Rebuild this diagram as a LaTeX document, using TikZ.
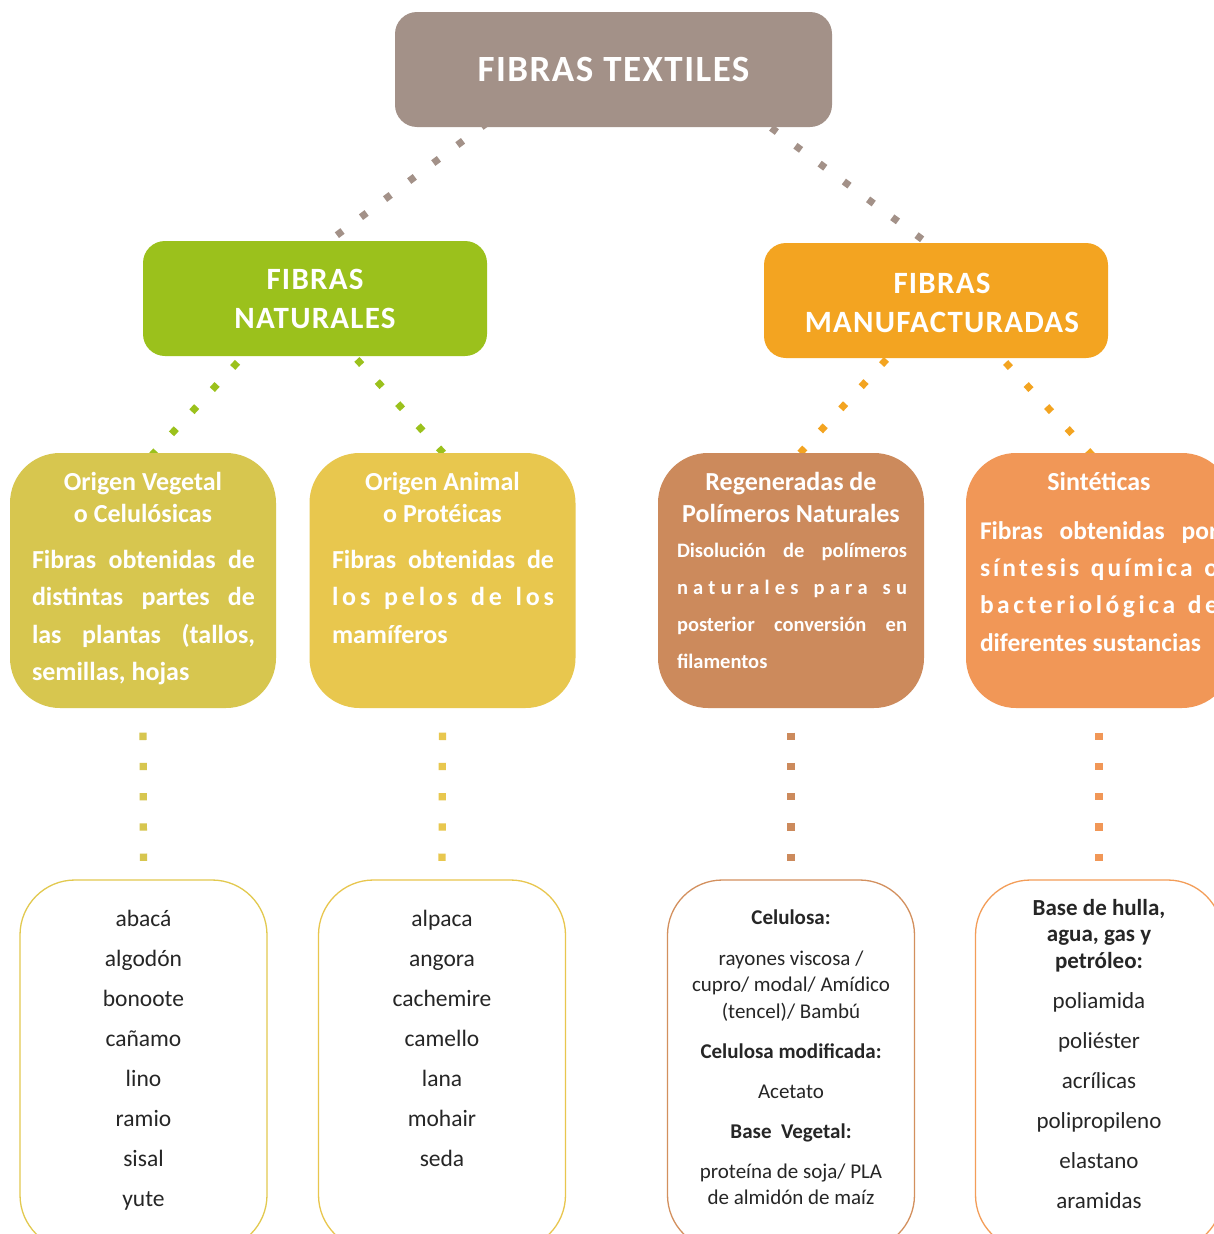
\documentclass[tikz,border=0pt]{standalone}
\usepackage{fontspec}
\setmainfont{Carlito}
\usetikzlibrary{backgrounds}

\definecolor{cTop}{HTML}{A39188}
\definecolor{cNat}{HTML}{9BC11C}
\definecolor{cMan}{HTML}{F3A421}
\definecolor{cVeg}{HTML}{D7C64F}
\definecolor{cAni}{HTML}{E8C74E}
\definecolor{cReg}{HTML}{CC8A5C}
\definecolor{cSin}{HTML}{F19757}
\definecolor{cVegL}{HTML}{E2C94F}
\definecolor{cAniL}{HTML}{E8C64E}
\definecolor{cRegL}{HTML}{D3905E}
\definecolor{cSinL}{HTML}{F39D58}
\definecolor{ink}{HTML}{262626}

% letter-spaced words: glue between every character
\makeatletter
\newcommand\spreadword[1]{\let\sw@first\relax\@tfor\sw@t:=#1\do{\ifx\sw@first\@empty\hfil\fi\let\sw@first\@empty\sw@t}}
\makeatother
\newcommand\wgap{\hfil\ \hfil}
\newcommand\jline[2]{\makebox[#1][s]{#2}}

\begin{document}
\begin{tikzpicture}[x=1pt,y=-1pt,
  every node/.style={inner sep=0pt,outer sep=0pt},
  headbox/.style={rectangle,rounded corners=22pt,fill=#1,minimum width=344pt,minimum height=115pt},
  groupbox/.style={rectangle,rounded corners=50pt,fill=#1,minimum width=266pt,minimum height=255pt},
  listbox/.style={rectangle,rounded corners=55pt,draw=#1,line width=1.3pt,fill=white,minimum width=247pt,minimum height=370pt},
  headtxt/.style={text=white,align=center,font=\fontsize{31}{39}\selectfont\bfseries\addfontfeature{LetterSpace=4}},
  grouptitle/.style={text=white,anchor=base,font=\fontsize{26}{32}\selectfont\bfseries},
  groupbody/.style={text=white,anchor=base west,font=\fontsize{26}{37.5}\selectfont\bfseries},
  listtxt/.style={text=ink,anchor=base,font=\fontsize{23.5}{40}\selectfont},
  diag/.style={draw=#1,line width=7pt,line cap=butt,dash pattern=on 7pt off 23.1pt},
  vert/.style={draw=#1,line width=7.3pt,line cap=butt,dash pattern=on 7.3pt off 22.9pt,dash phase=7.5pt}
]
\useasboundingbox (0,0) rectangle (1214,1234);
\begin{pgfonlayer}{background}
  \fill[white] (0,0) rectangle (1214,1234);
\end{pgfonlayer}
\clip (0,0) rectangle (1214,1234);

% level 0
\node[headbox=cTop,minimum width=437pt,text=white,
      font=\fontsize{37}{44}\selectfont\bfseries\addfontfeature{LetterSpace=4}]
      (top) at (613.5,69.5) {FIBRAS TEXTILES};

% level 1
\node[headbox=cNat,headtxt] (nat) at (315,298.5) {FIBRAS\\NATURALES};
\node[headbox=cMan] (man) at (936,300.5) {};
\node[headtxt] (manT) at (942,302.5) {FIBRAS\\MANUFACTURADAS};

% level 2
\node[groupbox=cVeg] (veg) at (143,580.5) {};
\node[groupbox=cAni] (ani) at (442.5,580.5) {};
\node[groupbox=cReg] (reg) at (791,580.5) {};
\node[groupbox=cSin] (sin) at (1099,580.5) {};

\node[grouptitle] (vegT) at (143,490) {\parbox[t]{260pt}{\centering Origen Vegetal\\o Celulósicas}};
\node[groupbody] (vegB) at (32,568) {\parbox[t]{223pt}{%
  \jline{223pt}{Fibras obtenidas de}\\
  \jline{223pt}{distintas partes de}\\
  \jline{223pt}{las plantas (tallos,}\\
  semillas, hojas}};

\node[grouptitle] (aniT) at (442.5,490) {\parbox[t]{260pt}{\centering Origen Animal\\o Protéicas}};
\node[groupbody] (aniB) at (332,568) {\parbox[t]{222pt}{%
  \jline{222pt}{Fibras obtenidas de}\\
  \jline{222pt}{\spreadword{los}\wgap\spreadword{pelos}\wgap\spreadword{de}\wgap\spreadword{los}}\\
  mamíferos}};

\node[grouptitle] (regT) at (791,490) {\parbox[t]{260pt}{\centering Regeneradas de\\Polímeros Naturales}};
\node[groupbody,font=\fontsize{20.5}{37.3}\selectfont\bfseries] (regB) at (677,557) {\parbox[t]{230pt}{%
  \jline{230pt}{Disolución de polímeros}\\
  \jline{230pt}{\spreadword{naturales}\wgap\spreadword{para}\wgap\spreadword{su}}\\
  \jline{230pt}{posterior conversión en}\\
  filamentos}};

\node[grouptitle] (sinT) at (1099,490) {Sintéticas};
\node[groupbody,font=\fontsize{25.5}{37.4}\selectfont\bfseries] (sinB) at (980,539) {\parbox[t]{238pt}{%
  \jline{238pt}{Fibras obtenidas por}\\
  \jline{238pt}{\spreadword{síntesis}\wgap\spreadword{química}\wgap\spreadword{o}}\\
  \jline{238pt}{\spreadword{bacteriológica}\wgap\spreadword{de}}\\
  diferentes sustancias}};

% level 3
\node[listbox=cVegL] (vegL) at (143.5,1065) {};
\node[listbox=cAniL] (aniL) at (442,1065) {};
\node[listbox=cRegL] (regL) at (791,1065) {};
\node[listbox=cSinL] (sinL) at (1099,1065) {};

\node[listtxt] (vegItems) at (143.5,926) {\parbox[t]{220pt}{\centering
  abacá\\algodón\\bonoote\\cañamo\\lino\\ramio\\sisal\\yute}};
\node[listtxt] (aniItems) at (442,926) {\parbox[t]{220pt}{\centering
  alpaca\\angora\\cachemire\\camello\\lana\\mohair\\seda}};
\node[listtxt,font=\fontsize{21}{26.5}\selectfont] (regItems) at (791,924) {\parbox[t]{230pt}{\centering
  \textbf{Celulosa:}\\[14.5pt]
  rayones viscosa /\\cupro/ modal/ Amídico\\(tencel)/ Bambú\\[13.5pt]
  \textbf{Celulosa modificada:}\\[13.5pt]
  Acetato\\[13.5pt]
  \textbf{Base\ \ Vegetal:}\\[13.5pt]
  proteína de soja/ PLA\\de almidón de maíz}};
\node[listtxt,font=\fontsize{23}{26.5}\selectfont] (sinItems) at (1099,915) {\parbox[t]{230pt}{\centering
  \bfseries Base de hulla,\\agua, gas y\\petróleo:\\[13.5pt]
  \mdseries poliamida\\[13.5pt]poliéster\\[13.5pt]acrílicas\\[13.5pt]polipropileno\\[13.5pt]elastano\\[13.5pt]aramidas}};

% dotted connectors, running behind the boxes
\begin{pgfonlayer}{background}
  \draw[diag=cTop] ([shift={(-126.4,-4.2)}]top.south) -- ([shift={(-2.5,12.4)}]nat.north);
  \draw[diag=cTop] ([shift={(133.5,-17)}]top.south) -- ([shift={(10.4,14.2)}]man.north);
  \draw[diag=cNat] ([shift={(-57.1,-15.8)}]nat.south) -- ([shift={(-12.6,25.4)}]veg.north);
  \draw[diag=cNat] ([shift={(21.5,-18.7)}]nat.south) -- ([shift={(21.1,22)}]ani.north);
  \draw[diag=cMan] ([shift={(-29.2,-20.7)}]man.south) -- ([shift={(-11.4,22.2)}]reg.north);
  \draw[diag=cMan] ([shift={(49.1,-17.5)}]man.south) -- ([shift={(13.6,24.2)}]sin.north);
  \draw[vert=cVeg] ([yshift=-2pt]veg.south) -- (vegL.north);
  \draw[vert=cAni] ([yshift=-2pt]ani.south) -- (aniL.north);
  \draw[vert=cReg] ([yshift=-2pt]reg.south) -- (regL.north);
  \draw[vert=cSin] ([yshift=-2pt]sin.south) -- (sinL.north);
\end{pgfonlayer}
\end{tikzpicture}
\end{document}
